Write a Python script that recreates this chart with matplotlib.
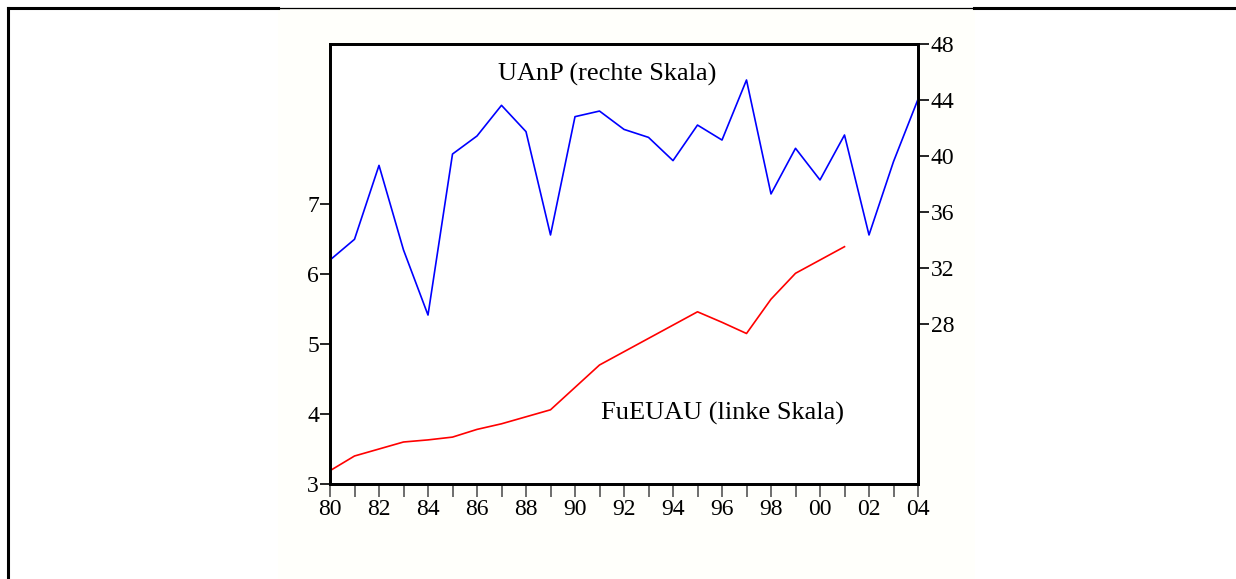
import matplotlib
matplotlib.use('Agg')
import matplotlib.pyplot as plt
from matplotlib.lines import Line2D
from matplotlib.patches import Rectangle

plt.rcParams['font.family'] = ['Liberation Serif', 'DejaVu Serif']

# data
years = list(range(1980, 2005))
uanp = [32.57, 34.05, 39.33, 33.29, 28.64, 40.14, 41.43, 43.62, 41.74, 34.36,
        42.81, 43.21, 41.9, 41.33, 39.67, 42.21, 41.14, 45.43, 37.29, 40.55,
        38.29, 41.5, 34.36, 39.6, 44.05]
fueuau_years = list(range(1980, 2002))
fueuau = [3.19, 3.40, 3.50, 3.60, 3.63, 3.67, 3.78, 3.86, 3.96, 4.06,
          4.38, 4.70, 4.89, 5.08, 5.27, 5.46, 5.31, 5.15, 5.64, 6.01,
          6.20, 6.39]
left_ticks = [3, 4, 5, 6, 7]
right_ticks = [28, 32, 36, 40, 44, 48]
label_uanp = "UAnP (rechte Skala)"
label_fueuau = "FuEUAU (linke Skala)"

W, H = 1236, 579
fig = plt.figure(figsize=(W / 100, H / 100), dpi=100)
fig.patch.set_facecolor('white')

# cream panel behind the chart and the frame lines
fig.patches.append(Rectangle((278 / W, 0), (975 - 278) / W, 1 - 9 / H,
                             transform=fig.transFigure, facecolor='#fffffb',
                             edgecolor='none', zorder=-5))
y_top = 1 - 8 / H
fig.add_artist(Line2D([8 / W, 278 / W], [y_top, y_top], color='black', lw=2.2))
fig.add_artist(Line2D([278 / W, 974 / W], [y_top, y_top], color='black', lw=0.9))
fig.add_artist(Line2D([974 / W, 1], [y_top, y_top], color='black', lw=2.2))
fig.add_artist(Line2D([8 / W, 8 / W], [0, y_top], color='black', lw=2.2))

ax = fig.add_axes([330 / W, 95 / H, 588 / W, 440 / H])
ax.set_facecolor('white')
ax2 = ax.twinx()

ax.plot(fueuau_years, fueuau, color='red', lw=1.2)
ax2.plot(years, uanp, color='blue', lw=1.2)

ax.set_xlim(1980, 2004)
ax.set_ylim(3, 3 + 440 / 70)
ax2.set_ylim(48 - 440 / 14, 48)

ax.set_xticks(years[::2])
ax.set_xticklabels([f"{y % 100:02d}" for y in years[::2]])
ax.set_xticks(years[1::2], minor=True)
ax.set_yticks(left_ticks)
ax2.set_yticks(right_ticks)

for a in (ax, ax2):
    for s in a.spines.values():
        s.set_linewidth(2)
ax.tick_params(axis='x', which='both', direction='out', length=9, width=1.2,
               color='#555555', labelsize=17, pad=2)
ax.tick_params(axis='y', direction='out', length=7, width=1.2, labelsize=17, pad=1)
ax2.tick_params(axis='y', direction='out', length=8, width=1.2, labelsize=17, pad=1)

ax.text(0.471, 0.93, label_uanp, transform=ax.transAxes, ha='center',
        va='center', fontsize=19)
ax.text(0.667, 0.161, label_fueuau, transform=ax.transAxes, ha='center',
        va='center', fontsize=19)

fig.savefig('out.png', dpi=100)
